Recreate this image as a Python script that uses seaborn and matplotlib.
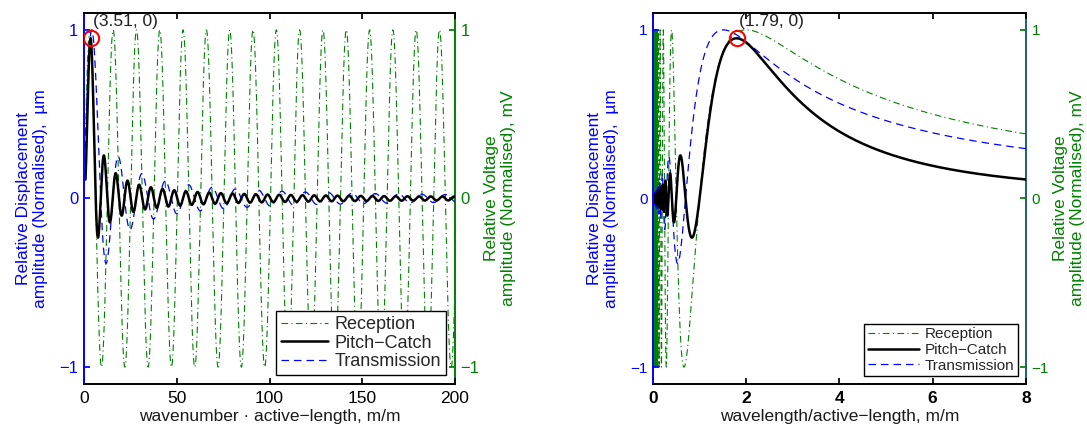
import numpy as np
import pandas as pd
import matplotlib
matplotlib.use("Agg")
import matplotlib.pyplot as plt
import seaborn as sns

# Non-dimensional wavenumber range k*L sampled for the frequency sweep
KL_RANGE = [0.785, 200.0]
N_SAMPLES = 20000
# Peak level of the pitch-catch curve on the displacement axis
PITCH_CATCH_PEAK = [0.95]
SERIES_NAMES = ["Reception", "Pitch\u2212Catch", "Transmission"]
PEAK_LABELS = ["(3.51, 0)", "(1.79, 0)"]
LEFT_XTICKS = [0, 50, 100, 150, 200]
RIGHT_XTICKS = [0, 2, 4, 6, 8]
YTICKS = [-1, 0, 1]
XLABELS = ["wavenumber \u00b7 active\u2212length, m/m", "wavelength/active\u2212length, m/m"]
YLABEL_LEFT = "Relative Displacement\namplitude (Normalised),  \u00b5m"
YLABEL_RIGHT = "Relative Voltage\namplitude (Normalised), mV"

# Transducer response model: reception ~ sin(kL/2), transmission ~ j1(kL/2)
kl = np.linspace(KL_RANGE[0], KL_RANGE[1], N_SAMPLES)
u = kl / 2.0
reception = np.sin(u)
j1 = np.sin(u) / u**2 - np.cos(u) / u
transmission = j1 / j1.max()
pitch = reception * j1
pitch = pitch / pitch.max() * PITCH_CATCH_PEAK[0]
wavelength = 2 * np.pi / kl

df = pd.DataFrame({"kl": kl, "wl": wavelength, "rec": reception,
                   "tr": transmission, "pc": pitch})

sns.set_theme(style="white")
plt.rcParams["font.family"] = ["Liberation Sans", "DejaVu Sans"]
plt.rcParams["axes.unicode_minus"] = True

BLUE = "#0000ff"
GREEN = "#008000"

fig = plt.figure(figsize=(10.87, 4.30), dpi=100)
ax_l = fig.add_axes([0.0773, 0.107, 0.3413, 0.8628])
ax_r = fig.add_axes([0.6007, 0.107, 0.3431, 0.8628])

panels = [
    dict(ax=ax_l, x="kl", xlim=[0, 200], xticks=LEFT_XTICKS, xlabel=XLABELS[0],
         peak=PEAK_LABELS[0], leg_fs=13, hl=2.6, rspine=GREEN, bold_x=False,
         ytick_fs=12),
    dict(ax=ax_r, x="wl", xlim=[0, 8], xticks=RIGHT_XTICKS, xlabel=XLABELS[1],
         peak=PEAK_LABELS[1], leg_fs=11, hl=3.3, rspine="#1f5f7a", bold_x=True,
         ytick_fs=11),
]

for p in panels:
    ax = p["ax"]
    xcol = p["x"]
    ax2 = ax.twinx()
    sns.lineplot(data=df, x=xcol, y="tr", ax=ax, estimator=None, sort=False,
                 color=BLUE, lw=0.9, linestyle=(0, (6, 4)), label=SERIES_NAMES[2])
    sns.lineplot(data=df, x=xcol, y="pc", ax=ax, estimator=None, sort=False,
                 color="black", lw=1.8, label=SERIES_NAMES[1])
    sns.lineplot(data=df, x=xcol, y="rec", ax=ax2, estimator=None, sort=False,
                 color=GREEN, lw=0.8, linestyle=(0, (6, 3, 1, 3)), label=SERIES_NAMES[0])

    # Mark the pitch-catch maximum
    i = int(np.argmax(df["pc"].values))
    px, py = df[xcol].values[i], df["pc"].values[i]
    ax.plot([px], [py], marker="o", ms=11, mfc="none", mec="red", mew=1.5, zorder=5)
    ax.annotate(p["peak"], (px, py), xytext=(2, 7), textcoords="offset points",
                fontsize=12.5, color="#202020", ha="left", va="bottom")

    for a in (ax, ax2):
        a.set_xlim(p["xlim"])
        a.set_ylim(-1.1, 1.1)
        a.set_yticks(YTICKS)
    ax.set_xticks(p["xticks"])
    ax.set_xlabel(p["xlabel"], fontsize=12.5, color="#1a1a1a", labelpad=2)
    ax.set_ylabel(YLABEL_LEFT, fontsize=12.5, color=BLUE, labelpad=8)
    ax2.set_ylabel(YLABEL_RIGHT, fontsize=12.5, color=GREEN, labelpad=3)

    ax.tick_params(axis="x", direction="in", top=True, bottom=True, length=4,
                   labelsize=12.5, colors="black", pad=5)
    ax.tick_params(axis="y", direction="in", left=True, right=False, length=4,
                   labelsize=p["ytick_fs"], colors=BLUE, pad=4)
    ax2.tick_params(axis="y", direction="in", right=True, left=False, length=4,
                    labelsize=p["ytick_fs"], colors=GREEN, pad=4)
    if p["bold_x"]:
        for t in ax.get_xticklabels():
            t.set_fontweight("bold")

    for s in ("top", "bottom"):
        ax.spines[s].set_color("black")
        ax.spines[s].set_linewidth(1.4)
    ax.spines["left"].set_color(BLUE)
    ax.spines["left"].set_linewidth(1.4)
    ax.spines["right"].set_visible(False)
    for s in ("top", "bottom", "left"):
        ax2.spines[s].set_visible(False)
    ax2.spines["right"].set_color(p["rspine"])
    ax2.spines["right"].set_linewidth(1.4)

    ax.set_zorder(ax2.get_zorder() + 1)
    ax.patch.set_visible(False)

    h1, l1 = ax.get_legend_handles_labels()
    h2, l2 = ax2.get_legend_handles_labels()
    if ax2.get_legend() is not None:
        ax2.get_legend().remove()
    lookup = dict(zip(l1 + l2, h1 + h2))
    leg = ax.legend([lookup[n] for n in SERIES_NAMES], SERIES_NAMES,
                    loc="lower right", fontsize=p["leg_fs"], frameon=True,
                    fancybox=False, framealpha=1, edgecolor="black",
                    handlelength=p["hl"], borderpad=0.25, labelspacing=0.1,
                    handletextpad=0.4, borderaxespad=0.5)
    leg.get_frame().set_linewidth(1.0)

fig.savefig("out.png", dpi=100)
